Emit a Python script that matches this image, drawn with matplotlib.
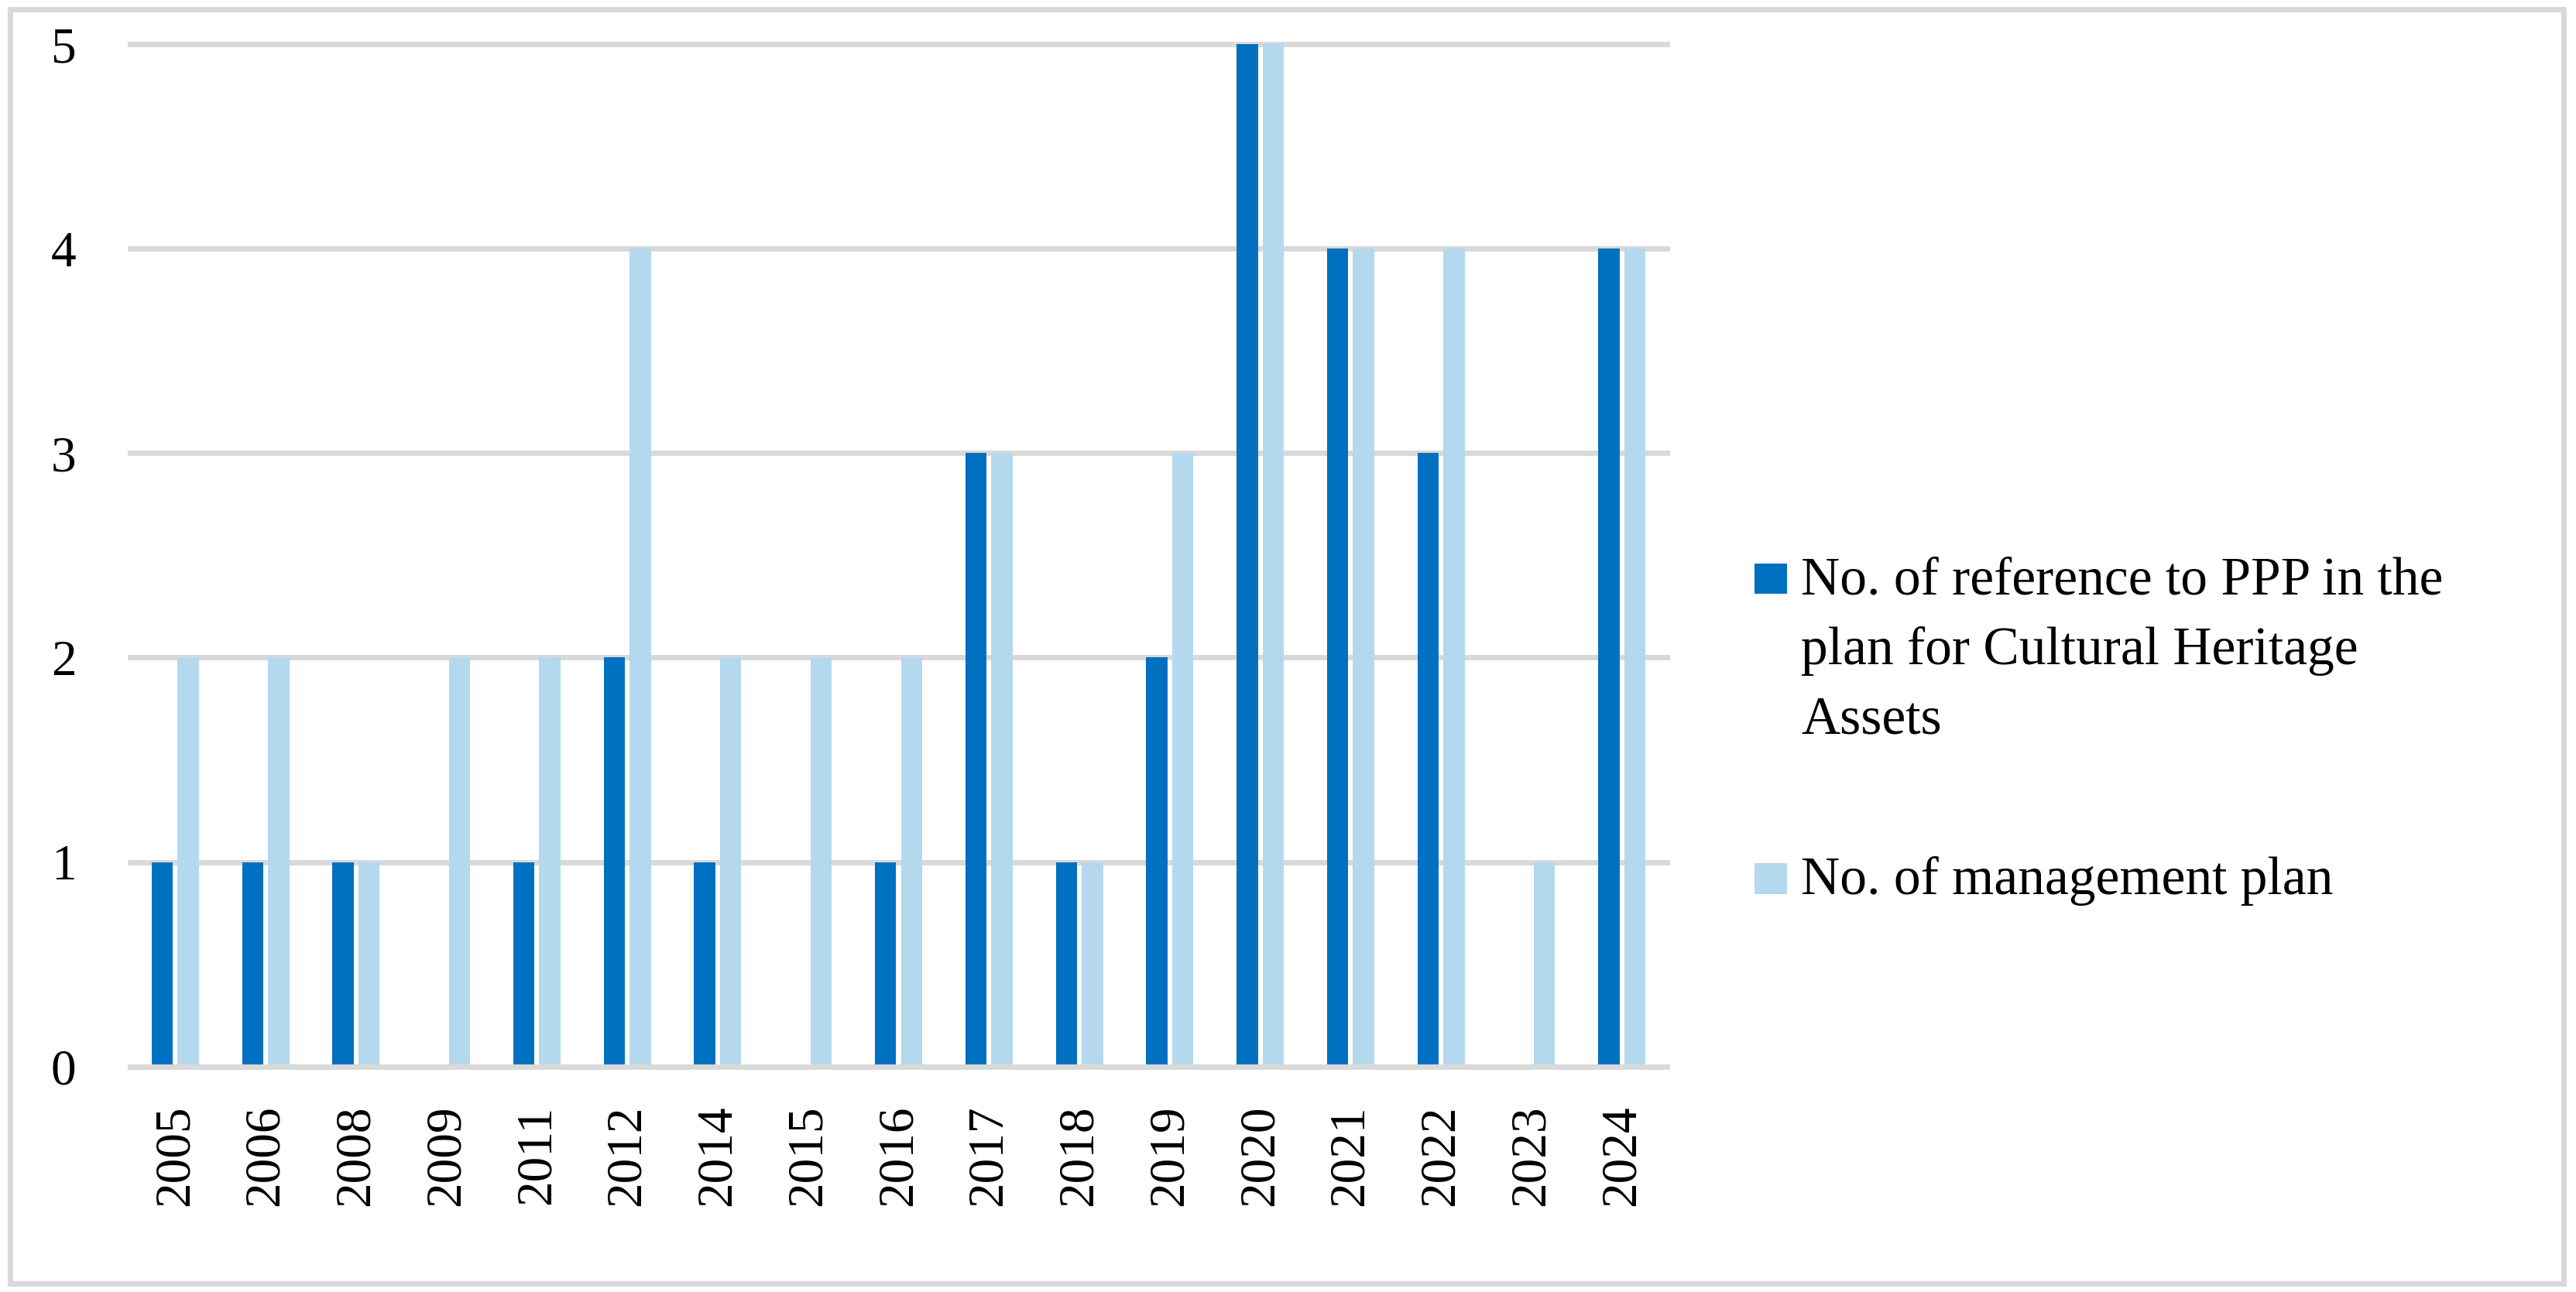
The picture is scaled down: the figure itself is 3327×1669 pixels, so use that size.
import matplotlib
matplotlib.use("Agg")
import matplotlib.pyplot as plt
from matplotlib.patches import Rectangle
import numpy as np

# --- Data ---
years = ["2005", "2006", "2008", "2009", "2011", "2012", "2014", "2015", "2016",
         "2017", "2018", "2019", "2020", "2021", "2022", "2023", "2024"]
ppp_refs = [1, 1, 1, 0, 1, 2, 1, 0, 1, 3, 1, 2, 5, 4, 3, 0, 4]
mgmt_plans = [2, 2, 1, 2, 2, 4, 2, 2, 2, 3, 1, 3, 5, 4, 4, 1, 4]
series_labels = [
    ["No. of reference to PPP in the", "plan for Cultural Heritage", "Assets"],
    ["No. of management plan"],
]

DARK = "#0070C0"
LIGHT = "#B4D8EE"
GRID = "#D9D9D9"
W, H, DPI = 3327, 1669, 100

plt.rcParams["font.family"] = ["Liberation Serif", "DejaVu Serif"]

fig = plt.figure(figsize=(W / DPI, H / DPI), dpi=DPI)
fig.patch.set_facecolor("white")

# axes placed to match the reference plot area (pixels -> figure fractions)
left, right, top, bottom = 168, 2153, 57.5, 1377.5
ax = fig.add_axes([left / W, 1 - bottom / H, (right - left) / W, (bottom - top) / H])

x = np.arange(len(years))
bw = 0.235
off = 0.1435
ax.bar(x - off, ppp_refs, width=bw, color=DARK, zorder=3)
ax.bar(x + off, mgmt_plans, width=bw, color=LIGHT, zorder=3)

ax.set_xlim(-0.5, len(years) - 0.5)
ax.set_ylim(0, 5)
ax.set_yticks(range(0, 6))
ax.set_xticks(x)
ax.set_xticklabels(years, rotation=90)
ax.tick_params(axis="both", length=0, labelsize=47)
ax.tick_params(axis="y", pad=50)
ax.tick_params(axis="x", pad=36)

ax.yaxis.grid(True, color=GRID, linewidth=5, zorder=0)
ax.set_axisbelow(True)
for gl in ax.get_ygridlines():
    gl.set_clip_on(False)
ax.axhline(0, color=GRID, linewidth=5, zorder=4, clip_on=False)
for s in ax.spines.values():
    s.set_visible(False)

# --- Legend (drawn by hand to match the wrapped layout) ---
text_x = 2326
swatch_x0, swatch_x1 = 2266, 2308
entries = [
    (DARK, [767, 858, 947], 728),
    (LIGHT, [1155], 1115),
]
for (color, baselines, sw_top), lines in zip(entries, series_labels):
    sw_bottom = baselines[0]
    fig.add_artist(Rectangle((swatch_x0 / W, 1 - sw_bottom / H),
                             (swatch_x1 - swatch_x0) / W, (sw_bottom - sw_top) / H,
                             transform=fig.transFigure, color=color, lw=0))
    for line, yb in zip(lines, baselines):
        fig.text(text_x / W, 1 - yb / H, line, fontsize=50, va="baseline", ha="left")

# outer chart border
fig.add_artist(Rectangle((12.5 / W, 1 - 1658 / H), (3311 - 12.5) / W, (1658 - 12.5) / H,
                         transform=fig.transFigure, fill=False, ec=GRID, lw=5))

fig.savefig("out.png", dpi=DPI)
